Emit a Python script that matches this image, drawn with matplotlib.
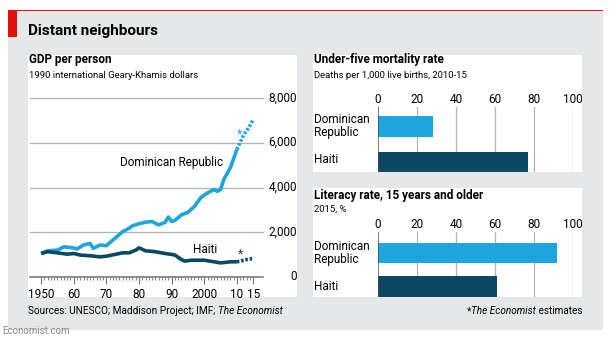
import matplotlib
matplotlib.use("Agg")
import matplotlib.pyplot as plt
from matplotlib.patches import Rectangle
from matplotlib.transforms import blended_transform_factory

plt.rcParams['font.family'] = ['Roboto', 'DejaVu Sans']

W, H = 613, 350
LIGHT = '#1fa5dd'
DARK = '#0b4861'
GREY_BG = '#e5e7e8'
GRID = '#b3b3b3'

# GDP per person, 1990 international Geary-Khamis dollars
dr_years = [1950, 1952, 1955, 1957, 1960, 1961, 1963, 1965, 1966, 1968, 1970, 1972, 1975,
            1977, 1978, 1980, 1982, 1984, 1986, 1988, 1989, 1990, 1991, 1993, 1995, 1997,
            1999, 2001, 2003, 2004, 2005, 2006, 2008, 2010]
dr_gdp = [1050, 1170, 1200, 1350, 1300, 1250, 1430, 1500, 1280, 1430, 1400, 1650, 2030,
          2180, 2290, 2380, 2450, 2480, 2330, 2440, 2680, 2480, 2530, 2780, 2890, 3160,
          3560, 3760, 3910, 3830, 3910, 4360, 4890, 5700]
dr_est_years = [2010, 2011, 2012, 2013, 2014, 2015]
dr_est_gdp = [5700, 6020, 6320, 6540, 6770, 7040]

haiti_years = [1950, 1952, 1955, 1958, 1960, 1962, 1965, 1968, 1970, 1973, 1975, 1977, 1979,
               1980, 1982, 1985, 1988, 1990, 1991, 1993, 1994, 1996, 2000, 2003, 2005, 2008, 2010]
haiti_gdp = [1050, 1130, 1080, 1020, 1050, 980, 950, 900, 930, 1020, 1080, 1080, 1200,
             1300, 1170, 1130, 1050, 1010, 980, 780, 710, 750, 750, 680, 630, 680, 680]
haiti_est_years = [2010, 2011, 2013, 2015]
haiti_est_gdp = [680, 710, 780, 830]

gdp_ticks = [0, 2000, 4000, 6000, 8000]
gdp_tick_labels = ['0', '2,000', '4,000', '6,000', '8,000']
year_ticks = [1950, 1960, 1970, 1980, 1990, 2000, 2010, 2015]
year_labels = ['1950', '60', '70', '80', '90', '2000', '10', '15']

countries = ['Dominican\nRepublic', 'Haiti']
mortality = [28, 77]
literacy = [92, 61]
bar_colors = [LIGHT, DARK]
pct_ticks = [0, 20, 40, 60, 80, 100]


def box(x0, y0, x1, y1):
    return [x0 / W, 1 - y1 / H, (x1 - x0) / W, (y1 - y0) / H]


def ft(x, y, s, **kw):
    return fig.text(x / W, 1 - y / H, s, **kw)


def rect(x0, y0, x1, y1, color):
    fig.patches.append(Rectangle((x0 / W, 1 - y1 / H), (x1 - x0) / W, (y1 - y0) / H,
                                 transform=fig.transFigure, facecolor=color,
                                 edgecolor='none', zorder=-5))


fig = plt.figure(figsize=(W / 100, H / 100), dpi=100)
fig.patch.set_facecolor('white')

# background panels
rect(8, 10, 603, 330, GREY_BG)
rect(8, 10, 603, 11, '#e3120b')
rect(8, 10, 17, 37, '#e3120b')
for (x0, y0, x1, y1) in [(28, 55, 297, 297), (313, 55, 582, 172), (313, 188, 582, 297)]:
    rect(x0, y0, x1, y1, 'white')

ft(28, 31, 'Distant neighbours', fontsize=11, fontweight='bold', va='center')

# ---- GDP line chart ----
ax = fig.add_axes(box(30, 98, 263, 277))
ax.set_zorder(2)
ax.set_facecolor('none')
ax.set_xlim(1946.6, 2018)
ax.set_ylim(0, 8000)
for s in ax.spines.values():
    s.set_visible(False)
for v in gdp_ticks[1:]:
    ax.axhline(v, color=GRID, lw=0.9, clip_on=False, zorder=1)
ax.axhline(0, color='#707070', lw=1.1, clip_on=False, zorder=1)
ax.set_yticks([])
tr = blended_transform_factory(fig.transFigure, ax.transData)
for v, lab in zip(gdp_ticks, gdp_tick_labels):
    ax.text(297 / W, v, lab, transform=tr, ha='right', va='center', fontsize=8.5)

ax.plot(dr_years, dr_gdp, color=LIGHT, lw=2.6, solid_capstyle='butt', zorder=3)
ax.plot(dr_est_years, dr_est_gdp, color=LIGHT, lw=2.6, ls=(0, (0.7, 0.5)), zorder=3)
ax.plot(haiti_years, haiti_gdp, color=DARK, lw=2.6, solid_capstyle='butt', zorder=3)
ax.plot(haiti_est_years, haiti_est_gdp, color=DARK, lw=2.6, ls=(0, (0.7, 0.5)), zorder=3)
ax.text(2010.7, 6400, '*', color=LIGHT, fontsize=9, ha='center', va='center')
ax.text(2011.2, 1000, '*', color=DARK, fontsize=9, ha='center', va='center')
ax.text(1990, 5100, 'Dominican Republic', fontsize=8.5, ha='center', va='center')
ax.text(2000.3, 1250, 'Haiti', fontsize=8.5, ha='center', va='center')

ax.set_xticks(year_ticks)
ax.set_xticklabels(year_labels, fontsize=8.5)
ax.set_xticks(range(1950, 2016), minor=True)
ax.tick_params(axis='x', which='major', length=5, width=0.8, color='#707070', pad=3)
ax.tick_params(axis='x', which='minor', length=2.5, width=0.6, color='#707070')

ft(29, 60, 'GDP per person', fontsize=8.5, fontweight='bold', va='center')
ft(29, 75, '1990 international Geary-Khamis dollars', fontsize=6.8, va='center')


# ---- bar charts ----
def bar_panel(top, bottom, ylim, values, height):
    bx = fig.add_axes(box(378, top, 573, bottom))
    bx.set_zorder(2)
    bx.set_facecolor('none')
    bx.set_xlim(0, 100)
    bx.set_ylim(*ylim)
    for s in bx.spines.values():
        s.set_visible(False)
    for v in pct_ticks[1:]:
        bx.axvline(v, color=GRID, lw=0.9, zorder=1)
    bx.axvline(0, color='#505050', lw=1.1, zorder=4)
    bx.barh(range(len(values)), values, height=height, color=bar_colors, zorder=3)
    bx.set_yticks([])
    bx.set_xticks(pct_ticks)
    bx.xaxis.tick_top()
    bx.tick_params(axis='x', length=0, pad=1, labelsize=8.5)
    return bx


bar_panel(107, 172, (1.28, -0.55), mortality, 0.59)
ft(314, 60, 'Under-five mortality rate', fontsize=8.5, fontweight='bold', va='center')
ft(314, 75, 'Deaths per 1,000 live births, 2010-15', fontsize=6.8, va='center')
ft(314, 126, countries[0], fontsize=8.5, va='center', linespacing=0.95)
ft(314, 160, countries[1], fontsize=8.5, va='center')

bar_panel(232, 297, (1.31, -0.63), literacy, 0.61)
ft(314, 195, 'Literacy rate, 15 years and older', fontsize=8.5, fontweight='bold', va='center')
ft(314, 209, '2015, %', fontsize=6.8, va='center')
ft(314, 253, countries[0], fontsize=8.5, va='center', linespacing=0.95)
ft(314, 286, countries[1], fontsize=8.5, va='center')

# ---- footer ----
fig.canvas.draw()
rend = fig.canvas.get_renderer()
t1 = ft(28, 311, 'Sources: UNESCO; Maddison Project; IMF; ', fontsize=7.2, va='center')
bb = t1.get_window_extent(rend)
fig.text(bb.x1 / W, 1 - 311 / H, 'The Economist', fontsize=7.2, style='italic', va='center')

t3 = ft(582, 311, ' estimates', fontsize=7.2, va='center', ha='right')
bb = t3.get_window_extent(rend)
t4 = fig.text(bb.x0 / W, 1 - 311 / H, 'The Economist', fontsize=7.2, style='italic',
              va='center', ha='right')
bb = t4.get_window_extent(rend)
fig.text(bb.x0 / W, 1 - 311 / H, '*', fontsize=7.2, va='center', ha='right')

ft(2, 331, 'Economist.com', fontsize=7, color='#888888', va='center')

fig.savefig('out.png', dpi=100, facecolor='white')
